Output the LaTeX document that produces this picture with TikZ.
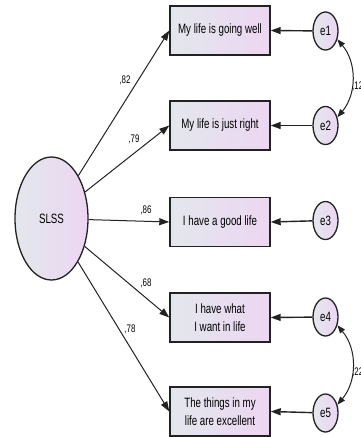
\documentclass[tikz,border=0pt]{standalone}
\usepackage{fontspec}
\setmainfont{Liberation Sans}[FakeStretch=0.72]
\usetikzlibrary{arrows.meta,shapes.geometric}
\definecolor{shadeL}{HTML}{E3E7EC}
\definecolor{shadeR}{HTML}{ECD6F2}
\definecolor{edge}{HTML}{222222}
\begin{document}
\begin{tikzpicture}[x=1pt,y=-1pt,
  item/.style={draw=edge, line width=1.4pt, left color=shadeL, right color=shadeR,
    minimum width=100pt, minimum height=49pt, inner sep=0pt, align=center,
    font=\fontsize{13.5}{18}\selectfont},
  latent/.style={ellipse, draw=edge, line width=1.3pt, left color=shadeL, right color=shadeR,
    minimum width=73pt, minimum height=123pt, inner sep=0pt,
    font=\fontsize{13.5}{15}\selectfont},
  err/.style={ellipse, draw=edge, line width=1.3pt, left color=shadeL, right color=shadeR,
    minimum width=25pt, minimum height=38pt, inner sep=0pt,
    font=\fontsize{13.5}{15}\selectfont},
  load/.style={draw=edge, line width=1pt, -{Triangle[length=10pt,width=7pt]}},
  resid/.style={draw=edge, line width=1.4pt, -{Triangle[length=10pt,width=7pt]}},
  cov/.style={draw=edge, line width=1pt,
    {Triangle[length=8pt,width=6pt]}-{Triangle[length=8pt,width=6pt]}},
  coef/.style={inner sep=0pt, font=\fontsize{11}{12}\selectfont}
]
\useasboundingbox (0,0) rectangle (361,437);

% latent factor
\node[latent] (slss) at (51.5,218.5) {SLSS};

% observed items
\node[item] (i1) at (220,30.5) {My life is going well};
\node[item] (i2) at (220,125.5) {My life is just right};
\node[item] (i3) at (220,222) {I have a good life};
\node[item] (i4) at (220,317.5) {I have what\\I want in life};
\node[item] (i5) at (220,411.5) {The things in my\\life are excellent};

% residuals
\node[err] (e1) at (325.5,31) {e1};
\node[err] (e2) at (325.5,125.5) {e2};
\node[err] (e3) at (325.5,220.5) {e3};
\node[err] (e4) at (325.5,317) {e4};
\node[err] (e5) at (325.5,413) {e5};

% loadings
\draw[load] (slss) -- (i1.west);
\draw[load] (slss) -- (i2.west);
\draw[load] (slss) -- (i3.west);
\draw[load] (slss) -- (i4.west);
\draw[load] (slss) -- (i5.west);

\node[coef] (c1) at (125,80) {,82};
\node[coef] (c2) at (134,139) {,79};
\node[coef] (c3) at (146,210) {,86};
\node[coef] (c4) at (146,283) {,68};
\node[coef] (c5) at (130,329) {,78};

% residual paths
\draw[resid] (e1) -- (i1.east);
\draw[resid] (e2) -- (i2.east);
\draw[resid] (e3) -- (i3.east);
\draw[resid] (e4) -- (i4.east);
\draw[resid] (e5) -- (i5.east);

% residual covariances
\draw[cov] (e1.-35) to[bend left=40] (e2.35);
\draw[cov] (e4.-35) to[bend left=40] (e5.35);
\node[coef, anchor=west] (r12) at (352,86) {,12};
\node[coef, anchor=west] (r45) at (352,372) {,22};
\end{tikzpicture}
\end{document}
